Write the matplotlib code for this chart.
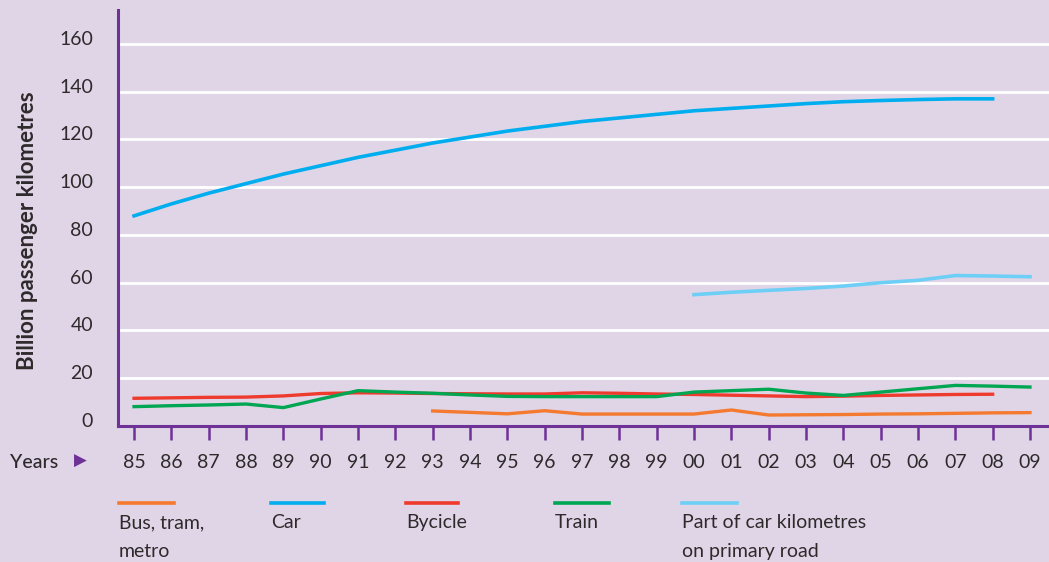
import numpy as np
import matplotlib
matplotlib.use("Agg")
import matplotlib.pyplot as plt
from matplotlib.lines import Line2D
from matplotlib.transforms import ScaledTranslation

plt.rcParams['font.family'] = ['Lato', 'DejaVu Sans']

# data
years = ["85", "86", "87", "88", "89", "90", "91", "92", "93", "94", "95", "96",
         "97", "98", "99", "00", "01", "02", "03", "04", "05", "06", "07", "08", "09"]
car = [88, 93, 97.5, 101.5, 105.5, 109, 112.5, 115.5, 118.5, 121, 123.5, 125.5,
       127.5, 129, 130.5, 132, 133, 134, 135, 135.8, 136.3, 136.7, 137, 137]
car_primary = [55, 56, 56.8, 57.6, 58.6, 60, 61, 63, 62.8, 62.5]  # from 00
bicycle = [11.6, 11.8, 12, 12.1, 12.6, 13.6, 13.9, 13.8, 13.6, 13.5, 13.4, 13.4,
           13.9, 13.7, 13.4, 13.2, 12.9, 12.6, 12.3, 12.5, 12.8, 13, 13.2, 13.3]
train = [8.1, 8.5, 8.8, 9.2, 7.7, 11.3, 14.8, 14.2, 13.7, 13.0, 12.4, 12.3, 12.3,
         12.3, 12.3, 14.2, 14.8, 15.4, 13.8, 12.8, 14.2, 15.6, 17.0, 16.7, 16.3]
bus = [6.3, 5.7, 5.1, 6.4, 5.0, 5.0, 5.0, 5.0, 6.7, 4.6, 4.7, 4.8, 5.0, 5.1,
       5.3, 5.5, 5.6]  # from 93
yticks = [0, 20, 40, 60, 80, 100, 120, 140, 160]

bg = '#e0d5e7'
purple = '#6e3196'
txt = '#2e2a2b'
c_bus = '#f47a2f'
c_car = '#00aeef'
c_bike = '#ee3b2e'
c_train = '#00a651'
c_prim = '#6dcff6'
fs = 14

fig = plt.figure(figsize=(10.49, 5.62), dpi=100, facecolor=bg)
ax = fig.add_axes([118 / 1049, 136 / 562, 1 - 118 / 1049, 416 / 562])
ax.set_facecolor(bg)

x = np.arange(len(years))
ax.set_xlim(-0.43, 24.51)
ax.set_ylim(0, 174.2)

for v in yticks[1:]:
    ax.axhline(v, color='white', lw=2, zorder=1)

ax.plot(x[:len(car)], car, color=c_car, lw=2.6, zorder=3)
ax.plot(x[15:15 + len(car_primary)], car_primary, color=c_prim, lw=2.6, zorder=3)
ax.plot(x[:len(bicycle)], bicycle, color=c_bike, lw=2.4, zorder=3)
ax.plot(x[:len(train)], train, color=c_train, lw=2.4, zorder=4)
ax.plot(x[8:8 + len(bus)], bus, color=c_bus, lw=2.4, zorder=3)

for s in ['top', 'right']:
    ax.spines[s].set_visible(False)
for s in ['left', 'bottom']:
    ax.spines[s].set_color(purple)
    ax.spines[s].set_linewidth(2.2)

ax.set_xticks(x)
ax.set_xticklabels(years)
ax.tick_params(axis='x', direction='out', length=10, width=1.8, color=purple,
               pad=10, labelsize=fs, labelcolor=txt)
ax.set_yticks(yticks)
ax.tick_params(axis='y', length=0, pad=18, labelsize=fs, labelcolor=txt)
for lab in ax.get_yticklabels():
    lab.set_transform(lab.get_transform() + ScaledTranslation(0, 6 / 100, fig.dpi_scale_trans))

fig.text(28 / 1049, 1 - 231 / 562, "Billion passenger kilometres", rotation=90,
         ha='center', va='center', fontsize=16, fontweight='bold', color=txt)

fig.text(10 / 1049, 1 - 462 / 562, "Years", ha='left', va='center',
         fontsize=fs, color=txt, fontweight='medium')
fig.text(80 / 1049, 1 - 461 / 562, "\u25B6", ha='center', va='center',
         fontsize=12, color=purple, family='DejaVu Sans')

# legend
legend = [("Bus, tram,\nmetro", c_bus, 119, 174),
          ("Car", c_car, 271, 324),
          ("Bycicle", c_bike, 406, 458),
          ("Train", c_train, 555, 609),
          ("Part of car kilometres\non primary road", c_prim, 682, 737)]
for label, col, x0, x1 in legend:
    y = 1 - 503 / 562
    fig.add_artist(Line2D([x0 / 1049, x1 / 1049], [y, y], color=col, lw=2.6,
                          transform=fig.transFigure))
    for i, line in enumerate(label.split("\n")):
        fig.text(x0 / 1049, 1 - (528 + 29 * i) / 562, line, ha='left', va='baseline',
                 fontsize=fs, color=txt)

fig.savefig("out.png", dpi=100, facecolor=bg)
